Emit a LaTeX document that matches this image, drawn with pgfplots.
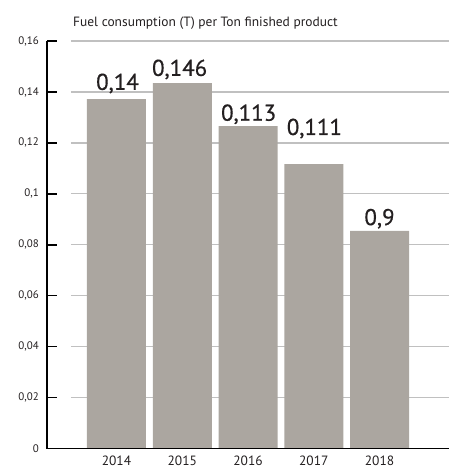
\documentclass[border=0pt]{standalone}
\usepackage{fontspec}
\setmainfont{PT Sans}
\newfontfamily\labfont[FakeBold=0.6]{PT Sans}
\usepackage{pgfplots}
\pgfplotsset{compat=1.18}
\definecolor{barc}{RGB}{171,166,160}
\definecolor{gridc}{RGB}{192,192,192}
\definecolor{txt}{RGB}{35,31,32}
\begin{document}
\begin{tikzpicture}
\useasboundingbox (-47bp,-19.5bp) rectangle (402bp,448.5bp);
\begin{axis}[
  at={(0,0)}, anchor=south west,
  scale only axis, width=402bp, height=407.5bp,
  xmin=-1.057, xmax=5.057, ymin=0, ymax=0.16,
  axis x line=bottom, axis y line=left,
  axis line style={-, line width=1.6bp, black},
  axis on top,
  xtick={0,1,2,3,4}, xticklabels={2014,2015,2016,2017,2018},
  xtick style={draw=none},
  ytick={0,0.02,0.04,0.06,0.08,0.1,0.12,0.14,0.16},
  ytick style={line width=1.6bp, black},
  tick align=inside, major tick length=10bp,
  yticklabel style={font=\fontsize{11}{13}\selectfont, text=txt, anchor=east, inner sep=0pt, xshift=-8bp,
    /pgf/number format/use comma, /pgf/number format/fixed, /pgf/number format/precision=2,
    /pgf/number format/assume math mode=true},
  xticklabel style={font=\fontsize{13.5}{15}\selectfont, text=txt, anchor=base, inner sep=0pt, yshift=-17bp},
]
\pgfplotsinvokeforeach{0.02,0.04,0.06,0.08,0.1,0.12,0.14,0.16}{
  \draw[gridc, line width=1.3bp] (axis cs:-0.692,#1) -- (axis cs:5.057,#1);
}
\addplot[ybar, bar width=59bp, fill=barc, draw=none] coordinates {
  (0,0.1372) (1,0.1435) (2,0.1266) (3,0.1117) (4,0.0854)
};
\addplot[draw=none, mark=none, nodes near coords, point meta=explicit symbolic,
  every node near coord/.append style={anchor=base, inner sep=0pt, font=\labfont\fontsize{23}{26}\selectfont, text=txt}]
  coordinates {
  (0.015,0.1408) [0,14]
  (0.96,0.1463) [0,146]
  (2.01,0.1287) [0,113]
  (3.01,0.1231) [0,111]
  (4.0,0.0877) [0,9]
};
\end{axis}
\node[anchor=base west, inner sep=0pt, font=\fontsize{13.5}{15}\selectfont, text=txt] at (26bp,421.5bp) {Fuel consumption (T) per Ton finished product};
\end{tikzpicture}
\end{document}
